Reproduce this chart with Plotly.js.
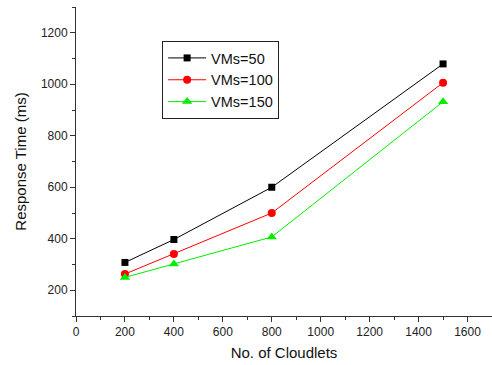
<!DOCTYPE html>
<html><head><meta charset="utf-8">
<script src="https://cdn.plot.ly/plotly-3.0.1.min.js"></script>
<style>html,body{margin:0;padding:0;background:#fff}</style>
</head><body><div id="chart" style="width:492px;height:365px"></div>
<script>
const cloudlets = [200, 400, 800, 1500];
const vms50 = [308, 397, 600, 1079];
const vms100 = [263, 341, 500, 1006];
const vms150 = [250, 302, 407, 932];
const seriesNames = ['VMs=50', 'VMs=100', 'VMs=150'];

const mk = (y, name, color, symbol, size) => ({
  x: cloudlets, y: y, name: name, type: 'scatter', mode: 'lines+markers',
  line: {color: color, width: 1},
  marker: {color: color, symbol: symbol, size: size}
});
const data = [
  mk(vms50, seriesNames[0], '#000000', 'square', 7),
  mk(vms100, seriesNames[1], '#ff0000', 'circle', 8),
  mk(vms150, seriesNames[2], '#00ee00', 'triangle-up', 9)
];
const fam = 'Liberation Sans, Arial, sans-serif';
const layout = {
  width: 492, height: 365,
  margin: {l: 76, r: 0, t: 7, b: 49},
  paper_bgcolor: '#fff', plot_bgcolor: '#fff',
  font: {family: fam, color: '#222', size: 12},
  showlegend: true,
  legend: {x: 0.207, y: 0.89, xanchor: 'left', yanchor: 'top',
    bordercolor: '#222', borderwidth: 1, bgcolor: '#fff',
    font: {family: fam, size: 14.5, color: '#111'},
    tracegroupgap: 0, itemwidth: 38},
  xaxis: {range: [0, 1700], dtick: 200, tick0: 0, ticks: 'outside', ticklen: 5,
    showgrid: false, zeroline: false, showline: true, linecolor: '#333', linewidth: 1,
    tickcolor: '#333',
    minor: {dtick: 100, ticks: 'outside', ticklen: 3, tickcolor: '#333', showgrid: false},
    title: {text: 'No. of Cloudlets', font: {size: 15, color: '#111'}, standoff: 9}},
  yaxis: {range: [100, 1300], dtick: 200, tick0: 0, ticks: 'outside', ticklen: 5,
    showgrid: false, zeroline: false, showline: true, linecolor: '#333', linewidth: 1,
    tickcolor: '#333',
    minor: {dtick: 100, ticks: 'outside', ticklen: 3, tickcolor: '#333', showgrid: false},
    title: {text: 'Response Time (ms)', font: {size: 15, color: '#111'}, standoff: 10}}
};
Plotly.newPlot('chart', data, layout, {displayModeBar: false, staticPlot: true});
</script></body></html>
